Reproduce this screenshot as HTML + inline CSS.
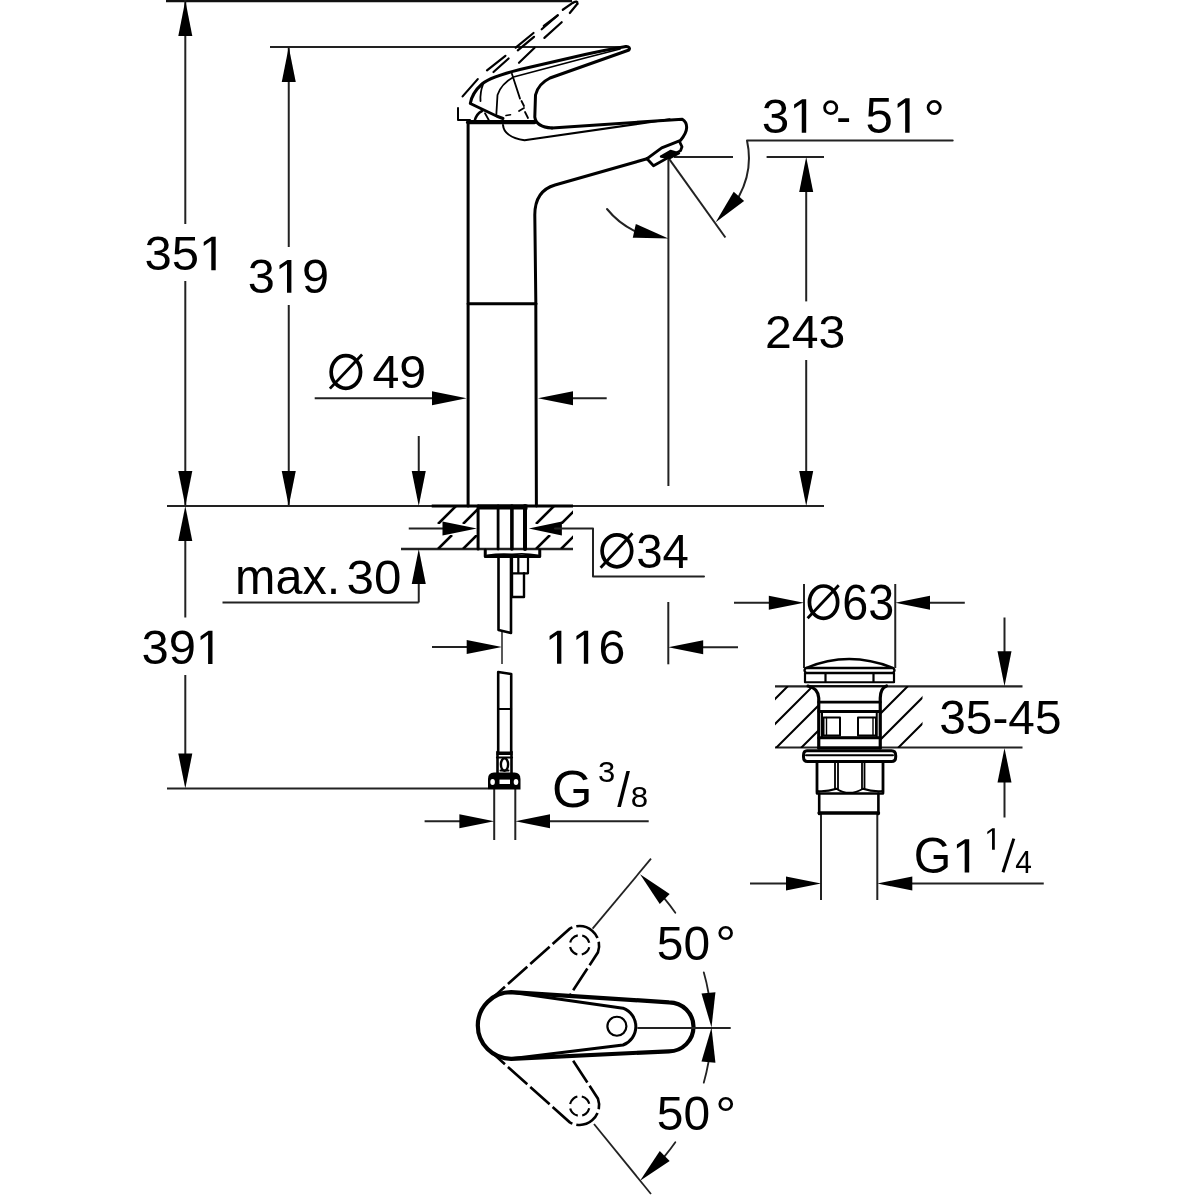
<!DOCTYPE html><html><head><meta charset="utf-8"><style>html,body{margin:0;padding:0;background:#fff;}svg{display:block;will-change:transform;}</style></head><body><svg width="1200" height="1200" viewBox="0 0 1200 1200" font-family="&quot;Liberation Sans&quot;, sans-serif"><line x1="166" y1="1" x2="572" y2="1" stroke="#111" stroke-width="2.6" />
<line x1="185.3" y1="0" x2="185.3" y2="224" stroke="#222" stroke-width="2.0" />
<line x1="185.3" y1="281" x2="185.3" y2="506" stroke="#222" stroke-width="2.0" />
<path d="M185.30,0.50 L178.30,36.00 L192.30,36.00Z" fill="#000" stroke="none"/>
<path d="M185.30,506.00 L192.30,471.00 L178.30,471.00Z" fill="#000" stroke="none"/>
<g transform="translate(144.44,270.21) scale(1.0099,1)" fill="#000" stroke="none"><text x="0.00" y="0" font-size="48.59">35</text><path d="M66.58,-33.53 L70.56,-33.53 L70.56,0.00 L66.19,0.00 L66.19,-29.44 L58.71,-24.10 L58.71,-28.13Z" stroke="none"/></g>
<line x1="270" y1="47" x2="626" y2="47" stroke="#222" stroke-width="2.0" />
<line x1="288.75" y1="47" x2="288.75" y2="247" stroke="#222" stroke-width="2.0" />
<line x1="288.75" y1="305" x2="288.75" y2="506" stroke="#222" stroke-width="2.0" />
<path d="M288.75,47.00 L281.75,82.00 L295.75,82.00Z" fill="#000" stroke="none"/>
<path d="M288.75,506.00 L295.75,471.00 L281.75,471.00Z" fill="#000" stroke="none"/>
<g transform="translate(247.75,292.82) scale(1.0230,1)" fill="#000" stroke="none"><text x="0.00" y="0" font-size="47.60">3</text><path d="M38.75,-32.84 L42.66,-32.84 L42.66,0.00 L38.37,0.00 L38.37,-28.84 L31.04,-23.61 L31.04,-27.56Z" stroke="none"/><text x="52.94" y="0" font-size="47.60">9</text></g>
<line x1="167" y1="506" x2="824" y2="506" stroke="#222" stroke-width="2.0" />
<line x1="314.7" y1="398.3" x2="440" y2="398.3" stroke="#222" stroke-width="2.0" />
<path d="M466.60,398.30 L432.00,391.30 L432.00,405.30Z" fill="#000" stroke="none"/>
<line x1="570" y1="398.3" x2="606.7" y2="398.3" stroke="#222" stroke-width="2.0" />
<path d="M537.90,398.30 L573.00,405.30 L573.00,391.30Z" fill="#000" stroke="none"/>
<ellipse cx="345.85" cy="372" rx="14.7" ry="16.3" fill="none" stroke="#000" stroke-width="3.7"/>
<line x1="329.9" y1="388.6" x2="362.1" y2="354.5" stroke="#000" stroke-width="2.8" />
<g transform="translate(372.49,388.04) scale(1.0535,1)" fill="#000" stroke="none"><text x="0.00" y="0" font-size="45.90">49</text></g>
<line x1="674" y1="157" x2="733" y2="157" stroke="#222" stroke-width="2.0" />
<line x1="766.6" y1="157" x2="824" y2="157" stroke="#222" stroke-width="2.0" />
<line x1="806.2" y1="180" x2="806.2" y2="301.4" stroke="#222" stroke-width="2.0" />
<path d="M806.20,157.00 L799.20,192.00 L813.20,192.00Z" fill="#000" stroke="none"/>
<line x1="806.2" y1="360" x2="806.2" y2="480" stroke="#222" stroke-width="2.0" />
<path d="M806.20,506.00 L813.20,471.00 L799.20,471.00Z" fill="#000" stroke="none"/>
<g transform="translate(765.09,348.13) scale(1.0222,1)" fill="#000" stroke="none"><text x="0.00" y="0" font-size="47.10">243</text></g>
<line x1="668.4" y1="157.7" x2="668.4" y2="486" stroke="#222" stroke-width="2.0" />
<line x1="668.2" y1="157.7" x2="725.4" y2="237.5" stroke="#222" stroke-width="2.0" />
<g transform="translate(761.87,132.81) scale(1.0137,1)" fill="#000" stroke="none"><text x="0.00" y="0" font-size="48.80">3</text><path d="M39.73,-33.67 L43.73,-33.67 L43.73,0.00 L39.34,0.00 L39.34,-29.57 L31.82,-24.20 L31.82,-28.25Z" stroke="none"/></g>
<g transform="translate(820.09,136.66) scale(1.0201,1)" fill="#000" stroke="none"><text x="0.00" y="0" font-size="52.52">°</text></g>
<g transform="translate(836.34,132.76) scale(0.9132,1)" fill="#000" stroke="none"><text x="0.00" y="0" font-size="48.72">-</text></g>
<g transform="translate(865.53,132.80) scale(0.9835,1)" fill="#000" stroke="none"><text x="0.00" y="0" font-size="50.00">5</text><path d="M40.71,-34.50 L44.81,-34.50 L44.81,0.00 L40.31,0.00 L40.31,-30.30 L32.61,-24.80 L32.61,-28.95Z" stroke="none"/></g>
<g transform="translate(923.49,137.66) scale(0.9929,1)" fill="#000" stroke="none"><text x="0.00" y="0" font-size="53.96">°</text></g>
<path d="M952.7,140.5 H747 A80.4,80.4 0 0 1 738.9,196.4" stroke="#222" stroke-width="2.0" fill="none" stroke-linejoin="round" stroke-linecap="round" />
<path d="M715.70,222.30 L744.11,201.07 L733.69,191.73Z" fill="#000" stroke="none"/>
<path d="M607,209 A80.7,80.7 0 0 0 634.3,230.8" stroke="#222" stroke-width="2.0" fill="none" stroke-linejoin="round" stroke-linecap="round" />
<path d="M668.40,238.40 L635.82,223.97 L632.78,237.63Z" fill="#000" stroke="none"/>
<line x1="401" y1="549" x2="573" y2="549" stroke="#222" stroke-width="2.4" />
<line x1="431.7" y1="506" x2="573" y2="506" stroke="#000" stroke-width="3.0" />
<line x1="477.5" y1="507" x2="527.5" y2="507" stroke="#000" stroke-width="5" />
<line x1="418.75" y1="436" x2="418.75" y2="480" stroke="#222" stroke-width="2.0" />
<path d="M418.75,506.00 L425.75,471.00 L411.75,471.00Z" fill="#000" stroke="none"/>
<line x1="418.75" y1="575" x2="418.75" y2="602.5" stroke="#222" stroke-width="2.0" />
<path d="M418.75,549.00 L411.75,584.00 L425.75,584.00Z" fill="#000" stroke="none"/>
<line x1="222.5" y1="602.5" x2="418.75" y2="602.5" stroke="#222" stroke-width="2.0" />
<g transform="translate(235.05,594.21) scale(0.9858,1)" fill="#000" stroke="none"><text x="0.00" y="0" font-size="49.18">max.</text></g>
<g transform="translate(346.53,594.22) scale(1.0351,1)" fill="#000" stroke="none"><text x="0.00" y="0" font-size="47.60">30</text></g>
<line x1="408.75" y1="528.4" x2="450" y2="528.4" stroke="#222" stroke-width="2.0" />
<path d="M476.90,528.40 L442.50,521.40 L442.50,535.40Z" fill="#000" stroke="none"/>
<path d="M528.75,528.40 L561.90,535.40 L561.90,521.40Z" fill="#000" stroke="none"/>
<path d="M555,528.4 H593 V576.5 H704" stroke="#222" stroke-width="2.0" fill="none" stroke-linejoin="round" stroke-linecap="round" />
<ellipse cx="616.9" cy="550.8" rx="14.8" ry="16.0" fill="none" stroke="#000" stroke-width="3.7"/>
<line x1="600.6" y1="567.7" x2="632.5" y2="533.25" stroke="#000" stroke-width="2.8" />
<g transform="translate(636.20,568.03) scale(1.0010,1)" fill="#000" stroke="none"><text x="0.00" y="0" font-size="47.32">34</text></g>
<line x1="185.3" y1="530" x2="185.3" y2="617.5" stroke="#222" stroke-width="2.0" />
<line x1="185.3" y1="675" x2="185.3" y2="770" stroke="#222" stroke-width="2.0" />
<path d="M185.30,506.00 L178.30,541.00 L192.30,541.00Z" fill="#000" stroke="none"/>
<path d="M185.30,788.60 L192.30,753.60 L178.30,753.60Z" fill="#000" stroke="none"/>
<line x1="167" y1="788.6" x2="488" y2="788.6" stroke="#222" stroke-width="2.0" />
<g transform="translate(141.44,664.12) scale(1.0129,1)" fill="#000" stroke="none"><text x="0.00" y="0" font-size="48.31">39</text><path d="M66.19,-33.33 L70.15,-33.33 L70.15,0.00 L65.81,0.00 L65.81,-29.27 L58.37,-23.96 L58.37,-27.97Z" stroke="none"/></g>
<line x1="502" y1="632" x2="502" y2="664" stroke="#222" stroke-width="1.5" />
<line x1="432" y1="647" x2="480" y2="647" stroke="#222" stroke-width="2.0" />
<path d="M501.90,647.00 L466.70,640.00 L466.70,654.00Z" fill="#000" stroke="none"/>
<line x1="668.3" y1="602" x2="668.3" y2="664.3" stroke="#222" stroke-width="2.0" />
<line x1="690" y1="647.2" x2="738" y2="647.2" stroke="#222" stroke-width="2.0" />
<path d="M668.30,647.20 L703.20,654.20 L703.20,640.20Z" fill="#000" stroke="none"/>
<g transform="translate(544.97,663.72) scale(1.0101,1)" fill="#000" stroke="none"><path d="M12.32,-32.94 L16.23,-32.94 L16.23,0.00 L11.94,0.00 L11.94,-28.93 L4.58,-23.68 L4.58,-27.64Z" stroke="none"/><path d="M38.87,-32.94 L42.78,-32.94 L42.78,0.00 L38.49,0.00 L38.49,-28.93 L31.13,-23.68 L31.13,-27.64Z" stroke="none"/><text x="53.10" y="0" font-size="47.74">6</text></g>
<line x1="494.2" y1="788" x2="494.2" y2="840" stroke="#222" stroke-width="2.0" />
<line x1="515.3" y1="788" x2="515.3" y2="840" stroke="#222" stroke-width="2.0" />
<line x1="424.6" y1="821.3" x2="470" y2="821.3" stroke="#222" stroke-width="2.0" />
<path d="M494.20,821.30 L459.40,814.30 L459.40,828.30Z" fill="#000" stroke="none"/>
<line x1="540" y1="821.3" x2="648.7" y2="821.3" stroke="#222" stroke-width="2.0" />
<path d="M515.30,821.30 L550.00,828.30 L550.00,814.30Z" fill="#000" stroke="none"/>
<g transform="translate(552.10,806.77) scale(0.9883,1)" fill="#000" stroke="none"><text x="0.00" y="0" font-size="52.68">G</text></g>
<g transform="translate(598.12,782.40) scale(1.0260,1)" fill="#000" stroke="none"><text x="0.00" y="0" font-size="30.23">3</text></g>
<g transform="translate(617.30,806.79) scale(0.9002,1)" fill="#000" stroke="none"><text x="0.00" y="0" font-size="50.75">/</text></g>
<g transform="translate(630.66,807.01) scale(1.0749,1)" fill="#000" stroke="none"><text x="0.00" y="0" font-size="29.10">8</text></g>
<line x1="804" y1="584" x2="804" y2="668" stroke="#222" stroke-width="2.0" />
<line x1="895.25" y1="584" x2="895.25" y2="668" stroke="#222" stroke-width="2.0" />
<line x1="734" y1="602.8" x2="780" y2="602.8" stroke="#222" stroke-width="2.0" />
<path d="M804.00,602.80 L768.80,595.80 L768.80,609.80Z" fill="#000" stroke="none"/>
<line x1="920" y1="602.8" x2="964.8" y2="602.8" stroke="#222" stroke-width="2.0" />
<path d="M895.25,602.80 L930.00,609.80 L930.00,595.80Z" fill="#000" stroke="none"/>
<ellipse cx="823.55" cy="602.2" rx="14.1" ry="16.2" fill="none" stroke="#000" stroke-width="3.7"/>
<line x1="807.6" y1="618.2" x2="838.75" y2="585.25" stroke="#000" stroke-width="2.8" />
<g transform="translate(842.22,620.01) scale(0.9447,1)" fill="#000" stroke="none"><text x="0.00" y="0" font-size="49.44">63</text></g>
<line x1="775" y1="686.3" x2="1022.5" y2="686.3" stroke="#222" stroke-width="2.2" />
<line x1="775" y1="747.5" x2="1022.5" y2="747.5" stroke="#222" stroke-width="2.2" />
<line x1="1004.5" y1="617.5" x2="1004.5" y2="660" stroke="#222" stroke-width="2.0" />
<path d="M1004.50,686.30 L1011.50,651.25 L997.50,651.25Z" fill="#000" stroke="none"/>
<line x1="1004.5" y1="770" x2="1004.5" y2="817.5" stroke="#222" stroke-width="2.0" />
<path d="M1004.50,748.00 L997.50,782.50 L1011.50,782.50Z" fill="#000" stroke="none"/>
<g transform="translate(939.28,734.41) scale(0.9836,1)" fill="#000" stroke="none"><text x="0.00" y="0" font-size="48.59">35-45</text></g>
<line x1="821" y1="813" x2="821" y2="900" stroke="#222" stroke-width="2.0" />
<line x1="877.3" y1="813" x2="877.3" y2="900" stroke="#222" stroke-width="2.0" />
<line x1="750" y1="883.5" x2="800" y2="883.5" stroke="#222" stroke-width="2.0" />
<path d="M821.00,883.50 L786.00,876.50 L786.00,890.50Z" fill="#000" stroke="none"/>
<line x1="890" y1="883.5" x2="1043.75" y2="883.5" stroke="#222" stroke-width="2.0" />
<path d="M877.30,883.50 L912.30,890.50 L912.30,876.50Z" fill="#000" stroke="none"/>
<g transform="translate(913.69,872.60) scale(0.9594,1)" fill="#000" stroke="none"><text x="0.00" y="0" font-size="50.28">G</text></g>
<g transform="translate(952.06,872.50) scale(1.0461,1)" fill="#000" stroke="none"><path d="M12.43,-33.25 L16.38,-33.25 L16.38,0.00 L12.05,0.00 L12.05,-29.20 L4.63,-23.90 L4.63,-27.90Z" stroke="none"/></g>
<g transform="translate(984.35,849.75) scale(0.9842,1)" fill="#000" stroke="none"><path d="M8.06,-21.55 L10.62,-21.55 L10.62,0.00 L7.81,0.00 L7.81,-18.93 L3.00,-15.49 L3.00,-18.08Z" stroke="none"/></g>
<line x1="1003" y1="872.3" x2="1013.8" y2="838.6" stroke="#000" stroke-width="3.0" />
<g transform="translate(1015.21,872.50) scale(0.9816,1)" fill="#000" stroke="none"><text x="0.00" y="0" font-size="30.52">4</text></g>
<g transform="translate(656.83,959.91) scale(0.9814,1)" fill="#000" stroke="none"><text x="0.00" y="0" font-size="48.87">50</text></g>
<g transform="translate(715.17,961.10) scale(1.0581,1)" fill="#000" stroke="none"><text x="0.00" y="0" font-size="49.28">°</text></g>
<g transform="translate(656.83,1130.32) scale(0.9958,1)" fill="#000" stroke="none"><text x="0.00" y="0" font-size="48.16">50</text></g>
<g transform="translate(715.15,1132.02) scale(1.0615,1)" fill="#000" stroke="none"><text x="0.00" y="0" font-size="49.46">°</text></g>
<path d="M468.1,122 V506" stroke="#000" stroke-width="3.0" fill="none" stroke-linejoin="round" stroke-linecap="round" />
<path d="M536.4,506 L535.8,300 L534.8,215 Q534.8,190.8 555,185 L647,158.75" stroke="#000" stroke-width="3.0" fill="none" stroke-linejoin="round" stroke-linecap="round" />
<path d="M468.1,303.75 H536" stroke="#000" stroke-width="3.0" fill="none" stroke-linejoin="round" stroke-linecap="round" />
<path d="M552,128 L682.25,119.2 Q687,122 686.6,128 Q686.5,133 680.6,140.3 L672.5,143.6 L661.7,147.9 Q652,155 647,158.75" stroke="#000" stroke-width="3.0" fill="none" stroke-linejoin="round" stroke-linecap="round" />
<path d="M647,158.75 L653.5,165.8 L680.6,150.6 L682,146.8 L679.5,141.5" stroke="#000" stroke-width="2.8" fill="none" stroke-linejoin="round" stroke-linecap="round" />
<path d="M661,156.5 L670.5,151 L679,153.3 L670,158 Z" stroke="#000" stroke-width="2.4" fill="#000" stroke-linejoin="round" stroke-linecap="round" />
<path d="M503,125 Q504,137 524.5,140.3 L669.7,119.3" stroke="#000" stroke-width="2.0" fill="none" stroke-linejoin="round" stroke-linecap="round" />
<path d="M468.1,122.2 H534.5" stroke="#000" stroke-width="4.2" fill="none" stroke-linejoin="round" stroke-linecap="round" />
<path d="M626,46.5 Q600,51 585,54.5 L520,69.5 Q490,77 482,84 Q472,93 470.3,103.5 L497,116.25 L503,118.5" stroke="#000" stroke-width="3.0" fill="none" stroke-linejoin="round" stroke-linecap="round" />
<path d="M626,46.5 Q631,47 629,50 L550,78 Q538,84 535.5,95 L534.8,117 Q536,127 552,128" stroke="#000" stroke-width="3.0" fill="none" stroke-linejoin="round" stroke-linecap="round" />
<path d="M620,49 L585,58 L513.5,77 Q501,84 497.5,95 L496.3,115" stroke="#000" stroke-width="1.8" fill="none" stroke-linejoin="round" stroke-linecap="round" />
<path d="M511.9,73.7 L520,98.6" stroke="#000" stroke-width="1.8" fill="none" stroke-linejoin="round" stroke-linecap="round" />
<path d="M521.5,101 L524,106 M519,111 L524,108 M525,112 L528,118" stroke="#000" stroke-width="1.8" fill="none" stroke-linejoin="round" stroke-linecap="round" />
<path d="M483,84.5 Q480,92 480.5,101" stroke="#000" stroke-width="1.8" fill="none" stroke-linejoin="round" stroke-linecap="round" />
<path d="M506,115.5 L510.5,114.75" stroke="#000" stroke-width="1.6" fill="none" stroke-linejoin="round" stroke-linecap="round" />
<path d="M474.5,121.5 Q476,114 482,111" stroke="#000" stroke-width="2.6" fill="none" stroke-linejoin="round" stroke-linecap="round" />
<path d="M485,113.25 L488.75,120" stroke="#000" stroke-width="1.8" fill="none" stroke-linejoin="round" stroke-linecap="round" />
<path d="M458,108 V120 H470" stroke="#000" stroke-width="2.0" fill="none" stroke-linejoin="round" stroke-linecap="round" />
<path d="M462.6,96.4 L477.75,79.1" stroke="#000" stroke-width="2.2" fill="none" stroke-linejoin="round" stroke-linecap="round" />
<path d="M487,70.4 L505.4,55.8" stroke="#000" stroke-width="2.2" fill="none" stroke-linejoin="round" stroke-linecap="round" />
<path d="M515.7,47.7 L533.5,33" stroke="#000" stroke-width="2.2" fill="none" stroke-linejoin="round" stroke-linecap="round" />
<path d="M541.7,29.25 L557.9,15.2" stroke="#000" stroke-width="2.2" fill="none" stroke-linejoin="round" stroke-linecap="round" />
<path d="M562.8,9.75 L573,2.7" stroke="#000" stroke-width="2.2" fill="none" stroke-linejoin="round" stroke-linecap="round" />
<path d="M493.5,72 L508.6,58.5" stroke="#000" stroke-width="2.2" fill="none" stroke-linejoin="round" stroke-linecap="round" />
<path d="M517.8,50.4 L534,36.8" stroke="#000" stroke-width="2.2" fill="none" stroke-linejoin="round" stroke-linecap="round" />
<path d="M543.8,26 L557.4,15.7" stroke="#000" stroke-width="2.2" fill="none" stroke-linejoin="round" stroke-linecap="round" />
<path d="M569.8,13 L577.4,3.8" stroke="#000" stroke-width="2.2" fill="none" stroke-linejoin="round" stroke-linecap="round" />
<path d="M519,62.8 L534.6,47.7" stroke="#000" stroke-width="2.2" fill="none" stroke-linejoin="round" stroke-linecap="round" />
<path d="M544.4,37.9 L561.7,22.2" stroke="#000" stroke-width="2.2" fill="none" stroke-linejoin="round" stroke-linecap="round" />
<path d="M573,2.7 Q578,0 577.4,3.8" stroke="#000" stroke-width="2.2" fill="none" stroke-linejoin="round" stroke-linecap="round" />
<defs><clipPath id="hL"><rect x="431.7" y="506" width="45.5" height="43"/></clipPath><clipPath id="hR"><rect x="526" y="506" width="47" height="43"/></clipPath><clipPath id="dL"><path d="M775,686 H808 Q818,690 818.5,698 V748 H775Z"/></clipPath><clipPath id="dR"><path d="M922.5,686 H886.5 Q880.5,690 880.5,698 V748 H922.5Z"/></clipPath></defs>
<g clip-path="url(#hL)"><path d="M" /></g>
<clipPath id="hLa506"><rect x="431.7" y="506" width="45.5" height="18"/></clipPath>
<path d="M438,524 L456,506 M463,524 L481,506 M488,524 L506,506 " stroke="#000" stroke-width="2.6" fill="none" clip-path="url(#hLa506)"/>
<clipPath id="hRa506"><rect x="526" y="506" width="47" height="18"/></clipPath>
<path d="M536,524 L554,506 M561,524 L579,506 M586,524 L604,506 " stroke="#000" stroke-width="2.6" fill="none" clip-path="url(#hRa506)"/>
<clipPath id="hLa535"><rect x="431.7" y="535" width="45.5" height="14"/></clipPath>
<path d="M413,549 L427,535 M438,549 L452,535 M463,549 L477,535 " stroke="#000" stroke-width="2.6" fill="none" clip-path="url(#hLa535)"/>
<clipPath id="hRa535"><rect x="526" y="535" width="47" height="14"/></clipPath>
<path d="M511,549 L525,535 M536,549 L550,535 M561,549 L575,535 " stroke="#000" stroke-width="2.6" fill="none" clip-path="url(#hRa535)"/>
<path d="M478.1,506 V549" stroke="#000" stroke-width="3.0" fill="none" stroke-linejoin="round" stroke-linecap="round" />
<path d="M498.1,506 V549" stroke="#000" stroke-width="2.8" fill="none" stroke-linejoin="round" stroke-linecap="round" />
<path d="M511.9,506 V549" stroke="#000" stroke-width="3.6" fill="none" stroke-linejoin="round" stroke-linecap="round" />
<path d="M525,506 V549" stroke="#000" stroke-width="4.0" fill="none" stroke-linejoin="round" stroke-linecap="round" />
<path d="M485.25,550 V556.5 H539.75 V550" stroke="#000" stroke-width="3.0" fill="none" stroke-linejoin="round" stroke-linecap="round" />
<path d="M487,555.5 Q500,553.5 512,554.5 Q525,553 538,555.5" stroke="#000" stroke-width="1.8" fill="none" stroke-linejoin="round" stroke-linecap="round" />
<path d="M498.5,557 V630 L511,633 V557" stroke="#000" stroke-width="2.6" fill="none" stroke-linejoin="round" stroke-linecap="round" />
<path d="M512,557 V573.3 H528 V557 M518.3,557 V573.3" stroke="#000" stroke-width="2.2" fill="none" stroke-linejoin="round" stroke-linecap="round" />
<path d="M512,573.3 V597 H524 V573.3" stroke="#000" stroke-width="2.4" fill="none" stroke-linejoin="round" stroke-linecap="round" />
<path d="M498.2,672 V752 M511.2,674 V752 M498.2,672 L511.2,674" stroke="#000" stroke-width="2.6" fill="none" stroke-linejoin="round" stroke-linecap="round" />
<path d="M498.2,708.9 H511.2" stroke="#000" stroke-width="2.0" fill="none" stroke-linejoin="round" stroke-linecap="round" />
<rect x="496.5" y="751.5" width="16" height="3.5" fill="#000"/>
<path d="M497,757.5 H512" stroke="#000" stroke-width="2.2" fill="none" stroke-linejoin="round" stroke-linecap="round" />
<path d="M497.5,752 V773 M511.5,752 V773" stroke="#000" stroke-width="2.6" fill="none" stroke-linejoin="round" stroke-linecap="round" />
<ellipse cx="504.5" cy="764.5" rx="3.6" ry="6.2" fill="none" stroke="#000" stroke-width="2.4"/>
<path d="M500.5,770.5 H508.5" stroke="#000" stroke-width="2.0" fill="none" stroke-linejoin="round" stroke-linecap="round" />
<path d="M494,772.5 H514.5 Q520.5,772.5 520.5,779 V789.5 H488 V779 Q488,772.5 494,772.5Z" fill="#000"/>
<ellipse cx="492.6" cy="782" rx="2.3" ry="3" fill="#fff"/><ellipse cx="516" cy="782" rx="2.3" ry="3" fill="#fff"/>
<rect x="499.5" y="779.6" width="10.5" height="4.4" fill="#fff"/>
<path d="M806,668 Q849,650 893,668" stroke="#000" stroke-width="2.4" fill="none" stroke-linejoin="round" stroke-linecap="round" />
<path d="M806,668 H893 Q896,670 893,673 H806 Q803,670 806,668Z" stroke="#000" stroke-width="2.4" fill="none" stroke-linejoin="round" stroke-linecap="round" />
<path d="M805,673 V682.25 H894 V673 M825.5,673 V682.25 M873.5,673 V682.25" stroke="#000" stroke-width="2.2" fill="none" stroke-linejoin="round" stroke-linecap="round" />
<path d="M808,686 Q818,688 818.75,698 V748" stroke="#000" stroke-width="3.2" fill="none" stroke-linejoin="round" stroke-linecap="round" />
<path d="M886.5,686 Q880.5,688 880.25,698 V748" stroke="#000" stroke-width="3.2" fill="none" stroke-linejoin="round" stroke-linecap="round" />
<path d="M810,686 H887" stroke="#000" stroke-width="1.6" fill="none" stroke-linejoin="round" stroke-linecap="round" />
<path d="M818.75,702.2 H880.25 M818.75,711.5 H880.25" stroke="#000" stroke-width="2.8" fill="none" stroke-linejoin="round" stroke-linecap="round" />
<path d="M822,711.5 V737.75 H876.75 V711.5" stroke="#000" stroke-width="2.0" fill="none" stroke-linejoin="round" stroke-linecap="round" />
<path d="M818.75,737.75 H880.25" stroke="#000" stroke-width="3.0" fill="none" stroke-linejoin="round" stroke-linecap="round" />
<path d="M823.5,717.5 H840 V735.5 H823.5Z M858,717.5 H876 V735.5 H858Z" stroke="#000" stroke-width="2.0" fill="none" stroke-linejoin="round" stroke-linecap="round" />
<path d="M826.5,717.5 V735.5 M873,717.5 V735.5" stroke="#000" stroke-width="1.4" fill="none" stroke-linejoin="round" stroke-linecap="round" />
<path d="M818.75,748 H880.25" stroke="#000" stroke-width="3.0" fill="none" stroke-linejoin="round" stroke-linecap="round" />
<path d="M807,750.8 H891.5 Q895.7,750.8 895.7,755.5 V757 Q895.7,761.5 891.5,761.5 H807.5 Q803.5,761.5 803.5,757 V755.5 Q803.5,750.8 807,750.8Z" stroke="#000" stroke-width="3.0" fill="none" stroke-linejoin="round" stroke-linecap="round" />
<path d="M806,755.3 H893" stroke="#000" stroke-width="2.0" fill="none" stroke-linejoin="round" stroke-linecap="round" />
<path d="M817,761.5 V792.5 M883,761.5 V792.5" stroke="#000" stroke-width="2.8" fill="none" stroke-linejoin="round" stroke-linecap="round" />
<path d="M835,761.5 V789 M838,761.5 V789 M862,761.5 V789 M864.5,761.5 V789" stroke="#000" stroke-width="1.8" fill="none" stroke-linejoin="round" stroke-linecap="round" />
<path d="M817,791 Q826,792 836.5,788.75 Q849,797 863,788.75 Q873,792 883,791" stroke="#000" stroke-width="2.0" fill="none" stroke-linejoin="round" stroke-linecap="round" />
<path d="M817,793.5 H883" stroke="#000" stroke-width="2.4" fill="none" stroke-linejoin="round" stroke-linecap="round" />
<path d="M819.2,793.5 V814 M878.4,793.5 V814" stroke="#000" stroke-width="2.6" fill="none" stroke-linejoin="round" stroke-linecap="round" />
<path d="M819.2,813 H878.4" stroke="#000" stroke-width="3.6" fill="none" stroke-linejoin="round" stroke-linecap="round" />
<path d="M726,748 L788,686 M751,748 L813,686 M776,748 L838,686 M801,748 L863,686 " stroke="#000" stroke-width="2.0" fill="none" clip-path="url(#dL)"/>
<path d="M846,748 L908,686 M872,748 L934,686 M898,748 L960,686 " stroke="#000" stroke-width="2.0" fill="none" clip-path="url(#dR)"/>
<path d="M511.1,992.2 L669,1002.3 A24.5,24.5 0 0 1 669,1051.3 L511.1,1058.8 A33.3,33.3 0 0 1 511.1,992.2Z" stroke="#000" stroke-width="4.2" fill="none" stroke-linejoin="round" stroke-linecap="round" />
<path d="M511.1,992.2 L623,1008.2 A19.6,19.6 0 0 1 623,1045 L511.1,1058.8" stroke="#000" stroke-width="3.0" fill="none" stroke-linejoin="round" stroke-linecap="round" />
<circle cx="616.9" cy="1026.25" r="9.5" fill="none" stroke="#000" stroke-width="2.2"/>
<line x1="637.3" y1="1028" x2="730.7" y2="1028" stroke="#222" stroke-width="1.8" />
<g transform="translate(511.1,1025.5) scale(1,1) rotate(-50)"><path d="M0,-33.3 L111.9,-17.3 A19.6,19.6 0 0 1 111.9,19.5 L62,25.5" fill="none" stroke="#000" stroke-width="2.6" stroke-dasharray="26,4"/><circle cx="105.8" cy="0.75" r="9.8" fill="none" stroke="#000" stroke-width="2.2" stroke-dasharray="11,4.4" stroke-dashoffset="4.7"/></g>
<g transform="translate(511.1,1025.5) scale(1,-1) rotate(-50)"><path d="M0,-33.3 L111.9,-17.3 A19.6,19.6 0 0 1 111.9,19.5 L62,25.5" fill="none" stroke="#000" stroke-width="2.6" stroke-dasharray="26,4"/><circle cx="105.8" cy="0.75" r="9.8" fill="none" stroke="#000" stroke-width="2.2" stroke-dasharray="11,4.4" stroke-dashoffset="4.7"/></g>
<line x1="592.6" y1="928.7" x2="651" y2="858.7" stroke="#222" stroke-width="1.8" />
<line x1="594" y1="1124" x2="651" y2="1194" stroke="#222" stroke-width="1.8" />
<path d="M664.71,898.94 A200,200 0 0 1 675.33,912.78" stroke="#222" stroke-width="1.8" fill="none" stroke-linejoin="round" stroke-linecap="round" />
<path d="M640.06,874.29 L659.76,903.89 L669.66,893.99Z" fill="#000" stroke="none"/>
<path d="M708.46,992.77 A200,200 0 0 0 703.75,972.37" stroke="#222" stroke-width="1.8" fill="none" stroke-linejoin="round" stroke-linecap="round" />
<path d="M711.50,1027.50 L715.43,992.16 L701.49,993.38Z" fill="#000" stroke="none"/>
<path d="M664.71,1156.06 A200,200 0 0 0 675.33,1142.22" stroke="#222" stroke-width="1.8" fill="none" stroke-linejoin="round" stroke-linecap="round" />
<path d="M640.06,1180.71 L669.66,1161.01 L659.76,1151.11Z" fill="#000" stroke="none"/>
<path d="M708.46,1062.23 A200,200 0 0 1 703.75,1082.63" stroke="#222" stroke-width="1.8" fill="none" stroke-linejoin="round" stroke-linecap="round" />
<path d="M711.50,1027.50 L701.49,1061.62 L715.43,1062.84Z" fill="#000" stroke="none"/></svg></body></html>
